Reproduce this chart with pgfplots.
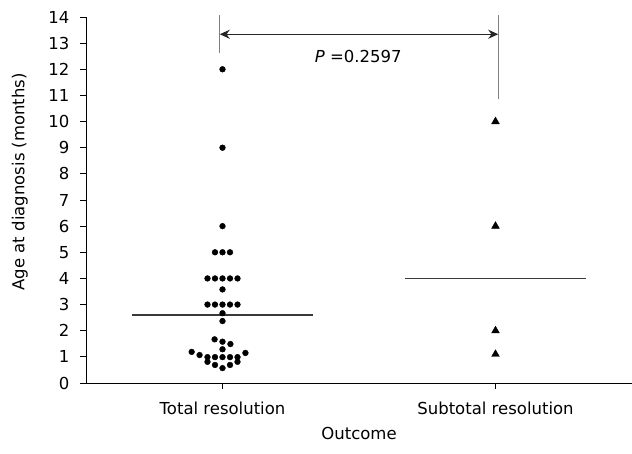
\documentclass[border=0pt]{standalone}
\usepackage{fontspec}
\setmainfont{DejaVu Sans}
\usepackage{pgfplots}
\pgfplotsset{compat=1.18}
\usetikzlibrary{arrows.meta}
\newcommand{\fs}{\fontsize{16.5bp}{19bp}\selectfont}
\definecolor{medline}{HTML}{3A3A3A}
\definecolor{vline}{HTML}{808080}
\begin{document}
\begin{tikzpicture}
\begin{axis}[
  width=546bp, height=366bp, scale only axis,
  xmin=-0.5, xmax=1.5, ymin=0, ymax=14,
  axis lines=left,
  axis line style={-, line width=0.8bp},
  xtick={0,1}, xticklabels={Total resolution, Subtotal resolution},
  ytick={0,1,...,14},
  tick align=outside, major tick length=6bp,
  tick style={black, line width=0.8bp},
  /pgf/number format/assume math mode=true,
  tick label style={font=\fs},
  xticklabel style={yshift=-9bp},
  yticklabel style={xshift=-7bp},
  label style={font=\fs},
  xlabel={Outcome},
  xlabel style={yshift=-6bp},
  ylabel={Age at diagnosis (months)},
  ylabel style={at={(axis description cs:-0.121,0.55)}, anchor=center},
  clip=false,
]
% Total resolution
\addplot[only marks, mark=*, mark size=2.9bp, black] coordinates {
(0,12) (0,9) (0,6)
(-0.0275,5) (0,5) (0.0275,5)
(-0.055,4) (-0.0275,4) (0,4) (0.0275,4) (0.055,4)
(0,3.58)
(-0.055,3) (-0.0275,3) (0,3) (0.0275,3) (0.055,3)
(0,2.67) (0,2.37)
(-0.029,1.67) (0,1.58) (0.029,1.49)
(0,1.29)
(-0.113,1.19) (-0.084,1.07) (0.084,1.15)
(-0.055,0.99) (-0.0275,0.99) (0,0.99) (0.0275,0.99) (0.055,0.99)
(-0.055,0.81) (0.055,0.81)
(-0.0275,0.69) (0.0275,0.69)
(0,0.57)
};
% Subtotal resolution
\addplot[only marks, mark=triangle*, mark size=4.5bp, black] coordinates {
(1,10) (1,6) (1,2) (1,1.1)
};
% medians
\addplot[medline, line width=1.4bp] coordinates {(-0.3333,2.6) (0.3333,2.6)};
\addplot[medline, line width=1.4bp] coordinates {(0.6667,4.0) (1.3333,4.0)};
% comparison bracket
\addplot[vline, line width=1bp] coordinates {(-0.01,12.63) (-0.01,14.07)};
\addplot[vline, line width=1bp] coordinates {(1.01,10.85) (1.01,14.07)};
\addplot[black!85, line width=1.2bp, {Stealth[length=10bp,width=9bp]}-{Stealth[length=10bp,width=9bp]}] coordinates {(-0.01,13.34) (1.01,13.34)};
\node[font=\fs] at (axis cs:0.497,12.48) {\itshape P\upshape\ =0.2597};
\end{axis}
\pgfresetboundingbox
\useasboundingbox (-86bp,-71bp) rectangle (546bp,383bp);
\end{tikzpicture}
\end{document}
